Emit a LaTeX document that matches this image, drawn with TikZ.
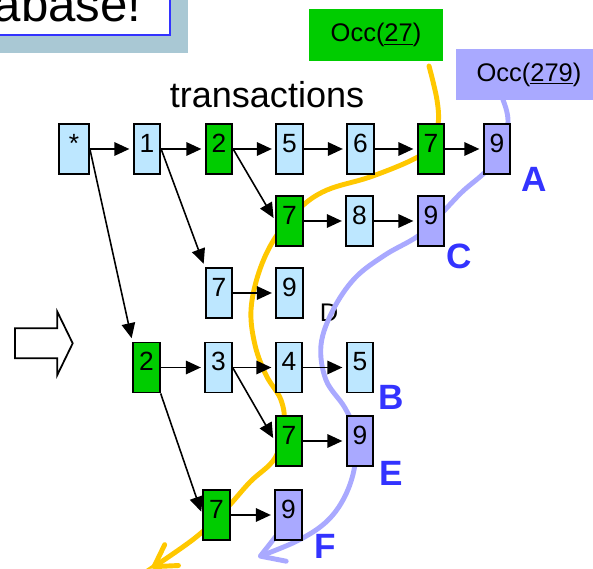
\documentclass[tikz,border=0pt]{standalone}
\usepackage{fontspec}
\setmainfont{Liberation Sans}
\usetikzlibrary{arrows.meta}

\definecolor{itemBlue}{HTML}{BDE7FF}
\definecolor{occGreen}{HTML}{00CC00}
\definecolor{occLav}{HTML}{A9A9FF}
\definecolor{pathGold}{HTML}{FFC800}
\definecolor{tagBlue}{HTML}{3333FF}
\definecolor{shadowBlue}{HTML}{A9C8D4}

\begin{document}
\begin{tikzpicture}
        [item/.style={rectangle, draw, line width=1pt, fill=itemBlue, minimum width=0.53cm,
            inner xsep=0pt, inner ysep=0pt, text height=0.57cm, text depth=0.43cm,
            font=\fontsize{15}{17}\selectfont},
        itemGreen/.style={item, fill=occGreen},
        itemLav/.style={item, fill=occLav},
        link/.style={line width=0.9pt, -{Triangle[length=0.3cm,width=0.27cm]}, shorten >=0.07cm},
        tag/.style={text=tagBlue, font=\fontsize{20}{24}\selectfont\bfseries},
        occ/.style={minimum width=2.67cm, minimum height=1.03cm, inner sep=0pt,
            font=\fontsize{14.5}{17}\selectfont},
        trail/.style={line width=2.8pt, line cap=round}]
        \useasboundingbox (0,0) rectangle (11.86,-11.38);

        % title box, cut by the page corner
        \fill[shadowBlue] (-0.5,0.5) rectangle (3.76,-1.06);
        \draw[tagBlue, line width=1.7pt, fill=white] (-0.5,0.5) rectangle (3.40,-0.70);
        \node[anchor=base east, inner sep=0pt, font=\fontsize{28}{32}\selectfont] (title) at (2.84,-0.44) {abase!};

        \node[anchor=base, font=\fontsize{20.5}{24}\selectfont] (head) at (5.34,-2.16) {transactions};
        \node[font=\fontsize{14.5}{17}\selectfont] (dmark) at (6.58,-6.25) {D};

        \node[occ, fill=occGreen] (occA) at (7.52,-0.70) {Occ(\underline{27})};
        \node[occ, fill=occLav, minimum width=2.92cm, minimum height=1.01cm] (occB) at (10.58,-1.49) {Occ(\underline{279})};

        % the two occurrence trails
        \draw[trail, pathGold, -{Straight Barb[length=0.42cm,width=0.5cm,round]}]
            plot[smooth, tension=0.6] coordinates {(8.58,-1.32) (8.74,-2.00) (8.76,-2.50) (8.60,-2.94)
            (8.24,-3.20) (7.40,-3.54) (6.54,-3.80) (6.00,-4.16) (5.50,-4.76) (5.18,-5.44) (5.02,-6.20)
            (5.10,-6.90) (5.32,-7.50) (5.62,-8.00) (5.68,-8.50) (5.50,-9.16) (5.00,-9.64) (4.50,-10.20)
            (3.90,-10.76) (3.04,-11.36)};
        \draw[trail, occLav, -{Straight Barb[length=0.45cm,width=0.55cm,round]}]
            plot[smooth, tension=0.6] coordinates {(10.06,-2.00) (10.16,-2.44) (10.00,-3.14) (9.64,-3.50)
            (9.24,-3.84) (8.80,-4.30) (8.36,-4.72) (7.70,-5.10) (7.10,-5.56) (6.66,-6.20) (6.42,-6.90)
            (6.52,-7.60) (6.90,-8.16) (7.12,-8.70) (7.08,-9.40) (6.86,-10.00) (6.50,-10.46) (5.94,-10.82)
            (5.16,-11.14)};

        \node[item, minimum width=0.6cm] (s) at (1.48,-2.98) {*};
        \node[item] (a1) at (2.94,-2.98) {1};
        \node[itemGreen] (a2) at (4.38,-2.98) {2};
        \node[item] (a5) at (5.79,-2.98) {5};
        \node[item] (a6) at (7.21,-2.98) {6};
        \node[itemGreen] (a7) at (8.62,-2.98) {7};
        \node[itemLav] (a9) at (9.94,-2.98) {9};

        \node[itemGreen] (b7) at (5.79,-4.42) {7};
        \node[item] (b8) at (7.19,-4.42) {8};
        \node[itemLav] (b9) at (8.62,-4.42) {9};

        \node[item] (c7) at (4.38,-5.86) {7};
        \node[item] (c9) at (5.79,-5.86) {9};

        \node[itemGreen] (d2) at (2.93,-7.35) {2};
        \node[item] (d3) at (4.37,-7.35) {3};
        \node[item] (d4) at (5.78,-7.35) {4};
        \node[item] (d5) at (7.20,-7.35) {5};

        \node[itemGreen] (e7) at (5.78,-8.82) {7};
        \node[itemLav] (e9) at (7.20,-8.82) {9};

        \node[itemGreen] (f7) at (4.33,-10.30) {7};
        \node[itemLav] (f9) at (5.77,-10.30) {9};

        \draw[link] (s.east) -- (a1.west);
        \draw[link] (a1.east) -- (a2.west);
        \draw[link] (a2.east) -- (a5.west);
        \draw[link] (a5.east) -- (a6.west);
        \draw[link] (a6.east) -- (a7.west);
        \draw[link] (a7.east) -- (a9.west);

        \draw[link] (a2.east) -- (b7.west);
        \draw[link] (b7.east) -- (b8.west);
        \draw[link] (b8.east) -- (b9.west);

        \draw[link] (a1.east) -- (c7.north west);
        \draw[link] (c7.east) -- (c9.west);

        \draw[link] (s.east) -- (d2.north west);
        \draw[link] (d2.east) -- (d3.west);
        \draw[link] (d3.east) -- (d4.west);
        \draw[link] (d4.east) -- (d5.west);

        \draw[link] (d3.east) -- (e7.west);
        \draw[link] (e7.east) -- (e9.west);

        \draw[link] (d2.south east) -- (f7.west);
        \draw[link] (f7.east) -- (f9.west);

        \node[tag] (tA) at (10.68,-3.58) {A};
        \node[tag] (tC) at (9.18,-5.13) {C};
        \node[tag] (tB) at (7.82,-7.95) {B};
        \node[tag] (tE) at (7.82,-9.46) {E};
        \node[tag] (tF) at (6.50,-10.92) {F};

        % hollow block arrow on the left
        \draw[line width=1pt, fill=white] (0.30,-6.566) -- (1.146,-6.566) -- (1.146,-6.234) -- (1.454,-6.866)
            -- (1.146,-7.50) -- (1.146,-7.166) -- (0.30,-7.166) -- cycle;
\end{tikzpicture}
\end{document}
